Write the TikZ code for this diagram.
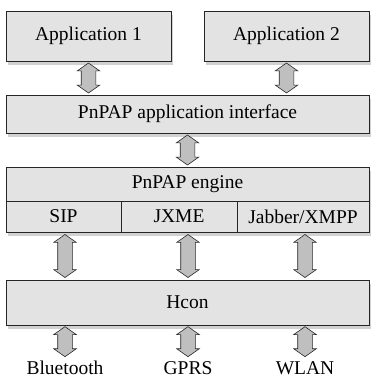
\documentclass[tikz,border=0pt]{standalone}
\usepackage{fontspec}
\setmainfont{Liberation Serif}
\usetikzlibrary{shapes.arrows,shadows,calc}
\tikzset{
  box/.style={draw=black!85, fill=black!11, line width=.7pt, inner sep=0pt,
    font=\fontsize{19.5}{22}\selectfont,
    drop shadow={shadow xshift=2pt, shadow yshift=-4pt, fill=black!18, opacity=1}},
  pipe/.style={double arrow, shape border rotate=90, draw=black!85, fill=black!25,
    line width=.6pt, inner xsep=7pt, inner ysep=0pt, minimum width=22pt,
    double arrow head extend=4pt, double arrow tip angle=110, minimum height=#1},
  pipe/.default=30pt,
  radio/.style={font=\fontsize{19.5}{22}\selectfont, anchor=base, inner sep=0pt}
}
\begin{document}
\begin{tikzpicture}[x=1pt,y=-1pt]
        \useasboundingbox (0,0) rectangle (372,379);
        % applications
        \node[box, minimum width=165pt, minimum height=50pt] (app1) at (88.5,36) {Application 1};
        \node[box, minimum width=165pt, minimum height=50pt] (app2) at (286.5,36) {Application 2};
        \node[box, minimum width=363pt, minimum height=38pt] (api) at (187.5,114) {PnPAP application interface};
        % engine and protocols
        \node[box, minimum width=363pt, minimum height=34pt] (engine) at (187.5,184) {PnPAP engine};
        \node[box, minimum width=115pt, minimum height=31pt] (sip) at (63.5,216.5) {SIP};
        \node[box, minimum width=116pt, minimum height=31pt] (jxme) at (179,216.5) {JXME};
        \node[box, minimum width=132pt, minimum height=31pt] (jabber) at (303,216.5) {Jabber/XMPP};
        \node[box, minimum width=363pt, minimum height=45pt] (hcon) at (187.5,302.5) {Hcon};
        % bearers
        \node[radio] (bt) at (65,374) {Bluetooth};
        \node[radio] (gprs) at (188,374) {GPRS};
        \node[radio] (wlan) at (305,374) {WLAN};
        \coordinate (btop) at (0,358);
        % arrows
        \node[pipe] at ($(app1.south)!.5!(api.north -| app1.south)$) {};
        \node[pipe] at ($(app2.south)!.5!(api.north -| app2.south)$) {};
        \node[pipe] at ($(api.south)!.5!(engine.north)$) {};
        \node[pipe=43pt] at ($(sip.south -| bt)!.5!(hcon.north -| bt)$) {};
        \node[pipe=43pt] at ($(jxme.south -| gprs)!.5!(hcon.north -| gprs)$) {};
        \node[pipe=43pt] at ($(jabber.south -| wlan)!.5!(hcon.north -| wlan)$) {};
        \foreach \r in {bt,gprs,wlan}
        \node[pipe] at ($(hcon.south -| \r)!.5!(btop -| \r)$) {};
\end{tikzpicture}
\end{document}
